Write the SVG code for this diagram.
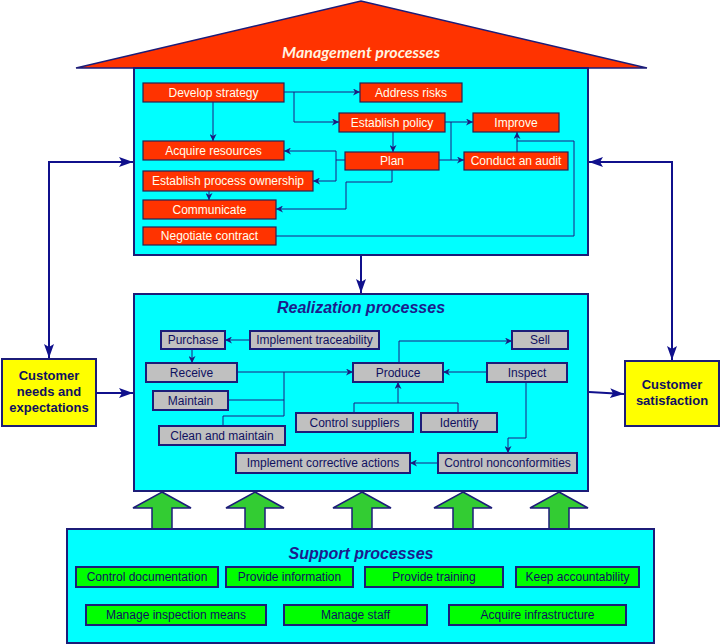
<svg xmlns="http://www.w3.org/2000/svg" width="721" height="644" viewBox="0 0 721 644">
<style>
text{font-family:"Liberation Sans",Arial,sans-serif;text-anchor:middle}
.panel{fill:#00FFFF;stroke:#1C1C78;stroke-width:2}
.red rect{fill:#FF3300;stroke:#2A2050;stroke-width:1.2}
.red text{fill:#FFFFEE;font-size:12px}
.grey rect{fill:#C0C0C0;stroke:#1C1C78;stroke-width:2}
.grey text{fill:#101060;font-size:12px}
.green rect{fill:#00FF00;stroke:#1C1C78;stroke-width:2}
.green text{fill:#101060;font-size:12px}
.yel rect{fill:#FFFF00;stroke:#1C1C78;stroke-width:2}
.yel text{fill:#101060;font-size:13px;font-weight:bold}
.title{fill:#1C1C8C;font-size:16px;font-weight:bold;font-style:italic}
.c path{fill:none;stroke:#1C1C80;stroke-width:1}
.big path{fill:none;stroke:#10108C;stroke-width:2}
.garrow{fill:#33CC33;stroke:#1C1C78;stroke-width:1.5}
</style>
<defs>
<marker id="s" viewBox="0 0 10 10" refX="10" refY="5" markerWidth="7" markerHeight="7" markerUnits="userSpaceOnUse" orient="auto-start-reverse"><path d="M0,0 L10,5 L0,10 L3,5 z" fill="#1C1C80"/></marker>
<marker id="b" viewBox="0 0 14 10" refX="14" refY="5" markerWidth="14" markerHeight="10" markerUnits="userSpaceOnUse" orient="auto-start-reverse"><path d="M0,0 L14,5 L0,10 L3,5 z" fill="#10108C"/></marker>
</defs>

<!-- green support arrows -->
<g id="support-arrows">
<polygon class="garrow" points="162,492 191,508 172,508 172,529 152,529 152,508 133,508"/>
<polygon class="garrow" points="255,492 284,508 265,508 265,529 245,529 245,508 226,508"/>
<polygon class="garrow" points="362,492 391,508 372,508 372,529 352,529 352,508 333,508"/>
<polygon class="garrow" points="463,492 492,508 473,508 473,529 453,529 453,508 434,508"/>
<polygon class="garrow" points="559,492 588,508 569,508 569,529 549,529 549,508 530,508"/>
</g>

<!-- Management -->
<g id="management">
<polygon points="76,68 361,1 647,68" fill="#FF3300" stroke="#1C1C78" stroke-width="1.5"/>
<text x="361" y="58" style="font-family:Lato,'Liberation Sans',sans-serif;font-size:16px;font-weight:bold;font-style:italic;fill:#FFF4E0">Management processes</text>
<rect class="panel" x="134" y="68" width="454" height="187"/>
</g>

<g id="realization-panel">
<rect class="panel" x="134" y="294" width="454" height="197"/>
<text class="title" x="361" y="313">Realization processes</text>
</g>

<g id="support-panel">
<rect class="panel" x="67" y="529" width="587" height="114"/>
<text class="title" x="361" y="559">Support processes</text>
</g>

<!-- red management nodes -->
<g class="red">
<g id="develop-strategy"><rect x="143" y="83" width="141" height="19"/><text x="213.5" y="96.5">Develop strategy</text></g>
<g id="address-risks"><rect x="360" y="83" width="102" height="19"/><text x="411" y="96.5">Address risks</text></g>
<g id="establish-policy"><rect x="339" y="113" width="106" height="19"/><text x="392" y="126.5">Establish policy</text></g>
<g id="improve"><rect x="473" y="113" width="86" height="19"/><text x="516" y="126.5">Improve</text></g>
<g id="acquire-resources"><rect x="143" y="141" width="141" height="19"/><text x="213.5" y="154.5">Acquire resources</text></g>
<g id="plan"><rect x="345" y="152" width="94" height="18"/><text x="392" y="165">Plan</text></g>
<g id="conduct-audit"><rect x="464" y="152" width="104" height="18"/><text x="516" y="165">Conduct an audit</text></g>
<g id="process-ownership"><rect x="143" y="171" width="170" height="20"/><text x="228" y="185">Establish process ownership</text></g>
<g id="communicate"><rect x="143" y="200" width="133" height="19"/><text x="209.5" y="213.5">Communicate</text></g>
<g id="negotiate-contract"><rect x="143" y="227" width="133" height="18"/><text x="209.5" y="240">Negotiate contract</text></g>
</g>

<!-- grey realization nodes -->
<g class="grey">
<g id="purchase"><rect x="161" y="331" width="64" height="18"/><text x="193" y="344">Purchase</text></g>
<g id="traceability"><rect x="250" y="331" width="129" height="18"/><text x="314.5" y="344">Implement traceability</text></g>
<g id="sell"><rect x="512" y="331" width="56" height="18"/><text x="540" y="344">Sell</text></g>
<g id="receive"><rect x="146" y="363" width="91" height="19"/><text x="191.5" y="376.5">Receive</text></g>
<g id="produce"><rect x="353" y="363" width="90" height="19"/><text x="398" y="376.5">Produce</text></g>
<g id="inspect"><rect x="487" y="363" width="80" height="19"/><text x="527" y="376.5">Inspect</text></g>
<g id="maintain"><rect x="153" y="391" width="75" height="19"/><text x="190.5" y="404.5">Maintain</text></g>
<g id="control-suppliers"><rect x="296" y="413" width="117" height="19"/><text x="354.5" y="426.5">Control suppliers</text></g>
<g id="identify"><rect x="421" y="413" width="76" height="19"/><text x="459" y="426.5">Identify</text></g>
<g id="clean-maintain"><rect x="159" y="426" width="126" height="19"/><text x="222" y="439.5">Clean and maintain</text></g>
<g id="corrective-actions"><rect x="236" y="453" width="174" height="20"/><text x="323" y="467">Implement corrective actions</text></g>
<g id="nonconformities"><rect x="438" y="453" width="139" height="20"/><text x="507.5" y="467">Control nonconformities</text></g>
</g>

<!-- green support nodes -->
<g class="green">
<g id="control-documentation"><rect x="76" y="567" width="142" height="20"/><text x="147" y="581">Control documentation</text></g>
<g id="provide-information"><rect x="226" y="567" width="127" height="20"/><text x="289.5" y="581">Provide information</text></g>
<g id="provide-training"><rect x="365" y="567" width="138" height="20"/><text x="434" y="581">Provide training</text></g>
<g id="keep-accountability"><rect x="516" y="567" width="123" height="20"/><text x="577.5" y="581">Keep accountability</text></g>
<g id="inspection-means"><rect x="86" y="605" width="180" height="20"/><text x="176" y="619">Manage inspection means</text></g>
<g id="manage-staff"><rect x="284" y="605" width="143" height="20"/><text x="355.5" y="619">Manage staff</text></g>
<g id="acquire-infrastructure"><rect x="449" y="605" width="177" height="20"/><text x="537.5" y="619">Acquire infrastructure</text></g>
</g>

<!-- customer boxes -->
<g class="yel">
<g id="customer-needs"><rect x="2" y="359" width="94" height="67"/><text x="49" y="380">Customer</text><text x="49" y="396">needs and</text><text x="49" y="412">expectations</text></g>
<g id="customer-satisfaction"><rect x="625" y="361" width="94" height="65"/><text x="672" y="389">Customer</text><text x="672" y="405">satisfaction</text></g>
</g>

<!-- connectors -->
<g id="connectors">
<g class="c">
<path d="M284,92 H360" marker-end="url(#s)"/>
<path d="M294,92 V122 H339" marker-end="url(#s)"/>
<path d="M213,102 V141" marker-end="url(#s)"/>
<path d="M393,132 V152" marker-end="url(#s)"/>
<path d="M445,122 H473" marker-end="url(#s)"/>
<path d="M451,122 V160"/>
<path d="M439,160 H464" marker-end="url(#s)"/>
<path d="M517,152 V132" marker-end="url(#s)"/>
<path d="M276,236 H574 V141 H517"/>
<path d="M345,160 H336 V151 H284" marker-end="url(#s)"/>
<path d="M336,160 V181 H313" marker-end="url(#s)"/>
<path d="M392,170 V182 H346 V209 H276" marker-end="url(#s)"/>
<path d="M209,191 V200" marker-end="url(#s)"/>

<path d="M250,340 H225" marker-end="url(#s)"/>
<path d="M192,349 V363" marker-end="url(#s)"/>
<path d="M237,372 H353" marker-end="url(#s)"/>
<path d="M228,400 H284"/>
<path d="M284,372 V416 H223 V426"/>
<path d="M399,363 V341 H512" marker-end="url(#s)"/>
<path d="M487,372 H443" marker-end="url(#s)"/>
<path d="M354,413 V403 H458 V413"/>
<path d="M398,403 V382" marker-end="url(#s)"/>
<path d="M526,382 V438 H508 V453" marker-end="url(#s)"/>
<path d="M438,463 H410" marker-end="url(#s)"/>
</g>
<g class="big">
<path d="M49,358 V162 H133" marker-start="url(#b)" marker-end="url(#b)"/>
<path d="M672,360 V162 H589" marker-start="url(#b)" marker-end="url(#b)"/>
<path d="M361,256 V293" marker-end="url(#b)"/>
<path d="M96,393 H133" marker-end="url(#b)"/>
<path d="M589,392 L624,394" marker-end="url(#b)"/>
</g>
</g>
</svg>
